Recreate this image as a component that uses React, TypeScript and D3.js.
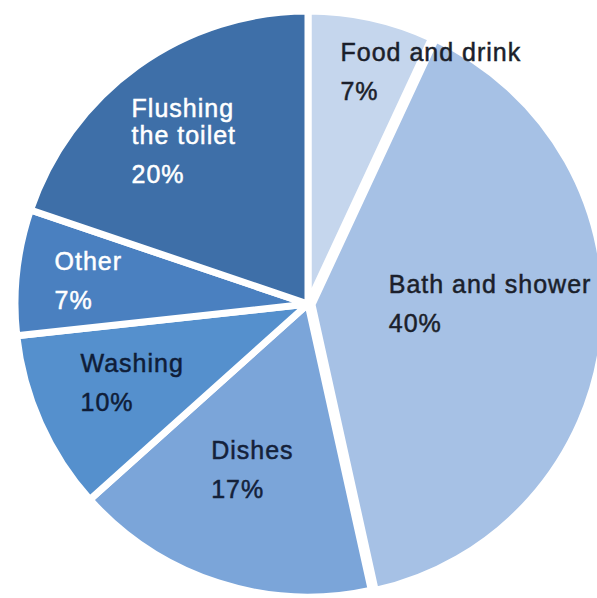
import React from "react";
import * as d3 from "d3";

const categories = ["Food and drink", "Bath and shower", "Dishes", "Washing", "Other", "Flushing the toilet"];
const values = [7, 40, 17, 10, 7, 20];
const labelLines = [["Food and drink"], ["Bath and shower"], ["Dishes"], ["Washing"], ["Other"], ["Flushing", "the toilet"]];
const percentLabels = ["7%", "40%", "17%", "10%", "7%", "20%"];

const colors = ["#c5d6ed", "#a6c1e5", "#7ba5d9", "#5590cd", "#4a80c0", "#3e6fa8"];
const textColors = ["#1b1f2b", "#1b1f2b", "#14213a", "#0f1d38", "#ffffff", "#ffffff"];
// label layout: radius fraction for centroid, offsets of first baseline
const labelK = [0.75, 0.6, 0.6, 0.6, 0.75, 0.6];
const labelDx = [-15, -94, -43, -67, -35, -74];
const labelDy = [-28, -30, -12, -4, -10, -44];
const explode = [0, 4, 0, 0, 0, 0];

const W = 597;
const H = 598;
const cx = 308;
const cy = 304;
const R = 293;

export default function App() {
  const pie = d3.pie<number>().sort(null).value((d) => d);
  const arcs = pie(values);
  const arcGen = d3.arc<d3.PieArcDatum<number>>().innerRadius(0).outerRadius(R);

  return (
    <svg
      width={W}
      height={H}
      style={{ position: "fixed", left: 0, top: 0, background: "#ffffff" }}
      fontFamily="'Liberation Sans', Arial, sans-serif"
    >
      <rect width={W} height={H} fill="#ffffff" />
      <g transform={`translate(${cx},${cy})`}>
        {arcs.map((a, i) => {
          const mid = (a.startAngle + a.endAngle) / 2;
          const ox = Math.sin(mid) * explode[i];
          const oy = -Math.cos(mid) * explode[i];
          return (
            <path
              key={categories[i]}
              d={arcGen(a) || ""}
              transform={`translate(${ox},${oy})`}
              fill={colors[i]}
              stroke="#ffffff"
              strokeWidth={7}
              strokeLinejoin="round"
            />
          );
        })}
        {arcs.map((a, i) => {
          const lr = R * labelK[i];
          const c = d3.arc<d3.PieArcDatum<number>>().innerRadius(lr).outerRadius(lr).centroid(a);
          const x = c[0] + labelDx[i];
          const y = c[1] + labelDy[i];
          const lines = labelLines[i];
          return (
            <text
              key={"l" + i}
              x={x}
              y={y}
              fill={textColors[i]}
              stroke={textColors[i]}
              strokeWidth={0.5}
              fontSize={25}
              letterSpacing={1}
            >
              {lines.map((ln, j) => (
                <tspan key={j} x={x} y={y + j * 27}>
                  {ln}
                </tspan>
              ))}
              <tspan x={x} y={y + (lines.length - 1) * 27 + 39}>
                {percentLabels[i]}
              </tspan>
            </text>
          );
        })}
      </g>
    </svg>
  );
}
